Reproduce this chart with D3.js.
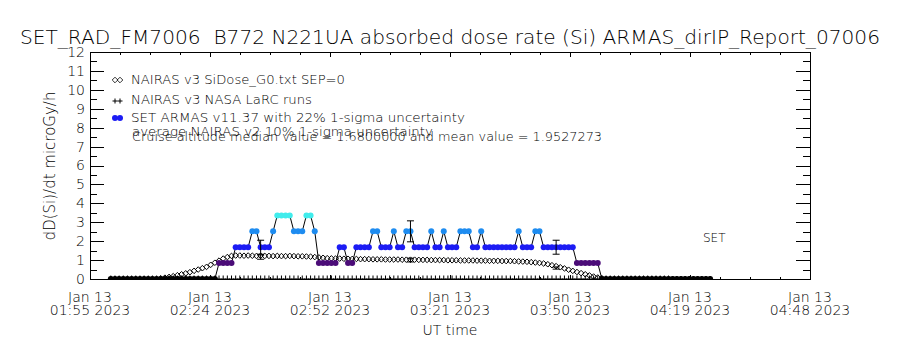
<!DOCTYPE html>
<html>
<head>
<meta charset="utf-8">
<script src="https://cdn.jsdelivr.net/npm/d3@7"></script>
<style>
body{margin:0;background:#fff}
text{font-family:"DejaVu Sans",sans-serif;font-weight:200;fill:#000;white-space:pre}
.axis path,.axis line{stroke:#000;stroke-width:1;shape-rendering:crispEdges}
</style>
</head>
<body>
<svg id="chart" width="900" height="350"></svg>
<script>
// time axis, minutes of the day (UT)
const xTickMinutes = [115, 143.83, 172.67, 201.5, 230.33, 259.17, 288];
const xTickTimes = ["01:55", "02:24", "02:52", "03:21", "03:50", "04:19", "04:48"];
const xTickDay = "Jan 13";
const xTickYear = "2023";

// 1 minute records, first one at 02:00 UT
const sampleStart = 120;
const sampleStep = 1;

// SET ARMAS dose rate, microGy/h
const armasDose = [
  0,0,0,0,0,0,0,0,0,0,
  0,0,0,0,0,0,0,0,0,0,
  0,0,0,0,0,0,0.84,0.84,0.84,0.84,
  1.68,1.68,1.68,1.68,2.52,2.52,1.68,1.68,1.68,2.52,
  3.36,3.36,3.36,3.36,2.52,2.52,2.52,3.36,3.36,2.52,
  0.84,0.84,0.84,0.84,0.84,1.68,1.68,0.84,0.84,1.68,
  1.68,1.68,1.68,2.52,2.52,1.68,1.68,1.68,2.52,1.68,
  1.68,2.52,2.52,1.68,1.68,1.68,1.68,2.52,1.68,1.68,
  2.52,1.68,1.68,1.68,2.52,2.52,2.52,1.68,1.68,2.52,
  1.68,1.68,1.68,1.68,1.68,1.68,1.68,1.68,2.52,1.68,
  1.68,1.68,2.52,2.52,1.68,1.68,1.68,1.68,1.68,1.68,
  1.68,1.68,0.84,0.84,0.84,0.84,0.84,0.84,0,0,
  0,0,0,0,0,0,0,0,0,0,
  0,0,0,0,0,0,0,0,0,0,
  0,0,0,0,0
];

// NAIRAS v3 SiDose_G0, same records
const nairasDose = [
  0,0,0,0,0,0,0,0,0,0,
  0,0,0.03,0.07,0.11,0.15,0.20,0.25,0.30,0.36,
  0.43,0.50,0.57,0.64,0.75,0.86,0.97,1.08,1.16,1.22,
  1.24,1.24,1.23,1.24,1.23,1.22,1.23,1.22,1.22,1.21,
  1.22,1.21,1.21,1.22,1.21,1.20,1.20,1.19,1.18,1.16,
  1.14,1.12,1.10,1.09,1.08,1.08,1.07,1.07,1.06,1.06,
  1.05,1.05,1.05,1.04,1.04,1.04,1.03,1.03,1.03,1.03,
  1.02,1.02,1.02,1.02,1.01,1.01,1.01,1.00,1.00,1.00,
  1.00,0.99,0.99,0.99,0.98,0.98,0.98,0.98,0.97,0.97,
  0.97,0.96,0.96,0.96,0.95,0.95,0.95,0.94,0.93,0.92,
  0.91,0.89,0.87,0.85,0.82,0.78,0.73,0.68,0.62,0.56,
  0.49,0.43,0.37,0.31,0.25,0.19,0.13,0.08,0.04,0,
  0,0,0,0,0,0,0,0,0,0,
  0,0,0,0,0,0,0,0,0,0,
  0,0,0,0,0
];

// NAIRAS v3 NASA LaRC runs along the track (all on the zero line)
const larcDose = [
  0,0,0,0,0,0,0,0,0,0, 0,0,0,0,0,0,0,0,0,0,
  0,0,0,0,0,0,0,0,0,0, 0,0,0,0,0,0,0,0,0,0,
  0,0,0,0,0,0,0,0,0,0, 0,0,0,0,0,0,0,0,0,0,
  0,0,0,0,0,0,0,0,0,0, 0,0,0,0,0,0,0,0,0,0,
  0,0,0,0,0,0,0,0,0,0, 0,0,0,0,0,0,0,0,0,0,
  0,0,0,0,0,0,0,0,0,0, 0,0,0,0,0,0,0,0,0,0,
  0,0,0,0,0,0,0,0,0,0, 0,0,0,0,0
];

// uncertainty bars
const armasErrMinutes = [156, 192, 227];
const armasErrDose = [1.68, 2.52, 1.68];
const armasErrFrac = 0.22;
const larcErrMinutes = [156, 192, 227];
const larcErrDose = [1.16, 1.00, 0.58];
const larcErrFrac = 0.10;

const legendLabels = [
  "NAIRAS v3 SiDose_G0.txt SEP=0",
  "NAIRAS v3 NASA LaRC runs",
  "SET ARMAS v11.37 with 22% 1-sigma uncertainty",
  "average NAIRAS v2 10% 1-sigma uncertainty",
  "Cruise altitude median value = 1.6800000 and mean value = 1.9527273"
];

const title = "SET_RAD_FM7006  B772 N221UA absorbed dose rate (Si) ARMAS_dirIP_Report_07006";

var plotLeft = 90, plotRight = 810, plotTop = 52, plotBottom = 279;
var svg = d3.select("#chart");

var x = d3.scaleLinear().domain([115, 288]).range([plotLeft, plotRight]);
var y = d3.scaleLinear().domain([0, 12]).range([plotBottom, plotTop]);

var doseColor = d3.scaleThreshold()
  .domain([0.4, 1.2, 2.1, 2.9])
  .range(["#000000", "#4b0c78", "#1c1cf4", "#1e8cf0", "#40ecec"]);

var armas = armasDose.map(function(v, i){ return {t: sampleStart + i*sampleStep, v: v} });
var nairas = nairasDose.map(function(v, i){ return {t: sampleStart + i*sampleStep, v: v} });
var larc = larcDose.map(function(v, i){ return {t: sampleStart + i*sampleStep, v: v} });

svg.append("clipPath").attr("id", "plotClip")
  .append("rect")
  .attr("x", plotLeft).attr("y", plotTop)
  .attr("width", plotRight - plotLeft).attr("height", plotBottom - plotTop);

var plot = svg.append("g").attr("clip-path", "url(#plotClip)");

var diamond = "M0,-2.8L2.8,0L0,2.8L-2.8,0Z";
var plus = "M-2.5,0H2.5M0,-3.5V3.5";

// LaRC pluses
plot.selectAll(".larc")
  .data(larc)
  .enter().append("path")
  .attr("class", "larc")
  .attr("d", plus)
  .attr("transform", function(d){ return "translate(" + x(d.t) + "," + y(d.v) + ")" })
  .attr("stroke", "#000")
  .attr("stroke-width", 1);

// NAIRAS diamonds
plot.selectAll(".nairas")
  .data(nairas)
  .enter().append("path")
  .attr("class", "nairas")
  .attr("d", diamond)
  .attr("transform", function(d){ return "translate(" + x(d.t) + "," + y(d.v) + ")" })
  .attr("fill", "none")
  .attr("stroke", "#000")
  .attr("stroke-width", 1);

// ARMAS line + dots
plot.append("path")
  .datum(armas)
  .attr("fill", "none")
  .attr("stroke", "#000")
  .attr("stroke-width", 1)
  .attr("d", d3.line().x(function(d){ return x(d.t) }).y(function(d){ return y(d.v) }));

plot.selectAll(".armas")
  .data(armas)
  .enter().append("circle")
  .attr("class", "armas")
  .attr("cx", function(d){ return x(d.t) })
  .attr("cy", function(d){ return y(d.v) })
  .attr("r", 3)
  .attr("fill", function(d){ return doseColor(d.v) });

// error bars
function errorBars(minutes, dose, frac, cap){
  minutes.forEach(function(t, i){
    var lo = y(dose[i]*(1 - frac)), hi = y(dose[i]*(1 + frac)), cx = x(t);
    var g = plot.append("g").attr("stroke", "#000").attr("stroke-width", 1);
    g.append("line").attr("x1", cx).attr("x2", cx).attr("y1", lo).attr("y2", hi);
    g.append("line").attr("x1", cx - cap).attr("x2", cx + cap).attr("y1", lo).attr("y2", lo);
    g.append("line").attr("x1", cx - cap).attr("x2", cx + cap).attr("y1", hi).attr("y2", hi);
  });
}
errorBars(armasErrMinutes, armasErrDose, armasErrFrac, 3.5);
errorBars(larcErrMinutes, larcErrDose, larcErrFrac, 3.5);

// axes
var yMajor = d3.range(0, 12.01, 1), yMinor = d3.range(0.5, 12, 1);
var xMinor = [];
for (var k = 0; k < xTickMinutes.length - 1; k++) {
  var step = (xTickMinutes[k+1] - xTickMinutes[k]) / 4;
  for (var j = 1; j < 4; j++) xMinor.push(xTickMinutes[k] + j*step);
}

svg.append("g").attr("class", "axis")
  .attr("transform", "translate(" + plotLeft + ",0)")
  .call(d3.axisLeft(y).tickValues(yMajor).tickSize(-14).tickSizeOuter(0).tickPadding(5).tickFormat(d3.format("d")))
  .call(function(g){ g.selectAll("text").style("font-size", "14px").style("font-family", "DejaVu Sans").style("font-weight", 200) });
svg.append("g").attr("class", "axis")
  .attr("transform", "translate(" + plotLeft + ",0)")
  .call(d3.axisLeft(y).tickValues(yMinor).tickSize(-7).tickSizeOuter(0).tickFormat(""));
svg.append("g").attr("class", "axis")
  .attr("transform", "translate(" + plotRight + ",0)")
  .call(d3.axisRight(y).tickValues(yMajor).tickSize(-14).tickSizeOuter(0).tickFormat(""));
svg.append("g").attr("class", "axis")
  .attr("transform", "translate(" + plotRight + ",0)")
  .call(d3.axisRight(y).tickValues(yMinor).tickSize(-7).tickSizeOuter(0).tickFormat(""));

svg.append("g").attr("class", "axis")
  .attr("transform", "translate(0," + plotBottom + ")")
  .call(d3.axisBottom(x).tickValues(xTickMinutes).tickSize(-4.5).tickSizeOuter(0).tickFormat(""));
svg.append("g").attr("class", "axis")
  .attr("transform", "translate(0," + plotBottom + ")")
  .call(d3.axisBottom(x).tickValues(xMinor).tickSize(-2.5).tickSizeOuter(0).tickFormat(""));
svg.append("g").attr("class", "axis")
  .attr("transform", "translate(0," + plotTop + ")")
  .call(d3.axisTop(x).tickValues(xTickMinutes).tickSize(-4.5).tickSizeOuter(0).tickFormat(""));
svg.append("g").attr("class", "axis")
  .attr("transform", "translate(0," + plotTop + ")")
  .call(d3.axisTop(x).tickValues(xMinor).tickSize(-2.5).tickSizeOuter(0).tickFormat(""));

// time labels
var xl = svg.append("g");
xTickMinutes.forEach(function(t, i){
  var tx = xl.append("text").attr("text-anchor", "middle").style("font-size", "14px");
  tx.append("tspan").attr("x", x(t)).attr("y", 302).text(xTickDay);
  tx.append("tspan").attr("x", x(t)).attr("y", 315).text(xTickTimes[i] + " " + xTickYear);
});

svg.append("text").attr("x", 450).attr("y", 335).attr("text-anchor", "middle")
  .style("font-size", "14px").text("UT time");

svg.append("text")
  .attr("transform", "translate(55,166) rotate(-90)")
  .attr("text-anchor", "middle")
  .style("font-size", "15px")
  .text("dD(Si)/dt microGy/h");

svg.append("text").attr("x", 20).attr("y", 44)
  .attr("textLength", 860).attr("lengthAdjust", "spacingAndGlyphs")
  .style("font-size", "19px").text(title);

// legend
var legendY = [84, 104, 122, 136, 141];
var legendX = [131, 131, 131, 132, 132];
var legendW = [214, 181, 334, 301, 470];
legendLabels.forEach(function(s, i){
  svg.append("text").attr("x", legendX[i]).attr("y", legendY[i])
    .attr("textLength", legendW[i]).attr("lengthAdjust", "spacingAndGlyphs")
    .style("font-size", "12px").text(s);
});
[115, 120].forEach(function(px){
  svg.append("path").attr("d", diamond)
    .attr("transform", "translate(" + px + ",80)")
    .attr("fill", "none").attr("stroke", "#000").attr("stroke-width", 0.8);
  svg.append("path").attr("d", "M-2.5,0H2.5M0,-2.5V2.5")
    .attr("transform", "translate(" + px + ",101)")
    .attr("stroke", "#000").attr("stroke-width", 1);
  svg.append("circle").attr("cx", px).attr("cy", 118).attr("r", 3).attr("fill", doseColor(1.68));
});

svg.append("text").attr("x", 703).attr("y", 242).style("font-size", "12px").text("SET");
</script>
</body>
</html>
